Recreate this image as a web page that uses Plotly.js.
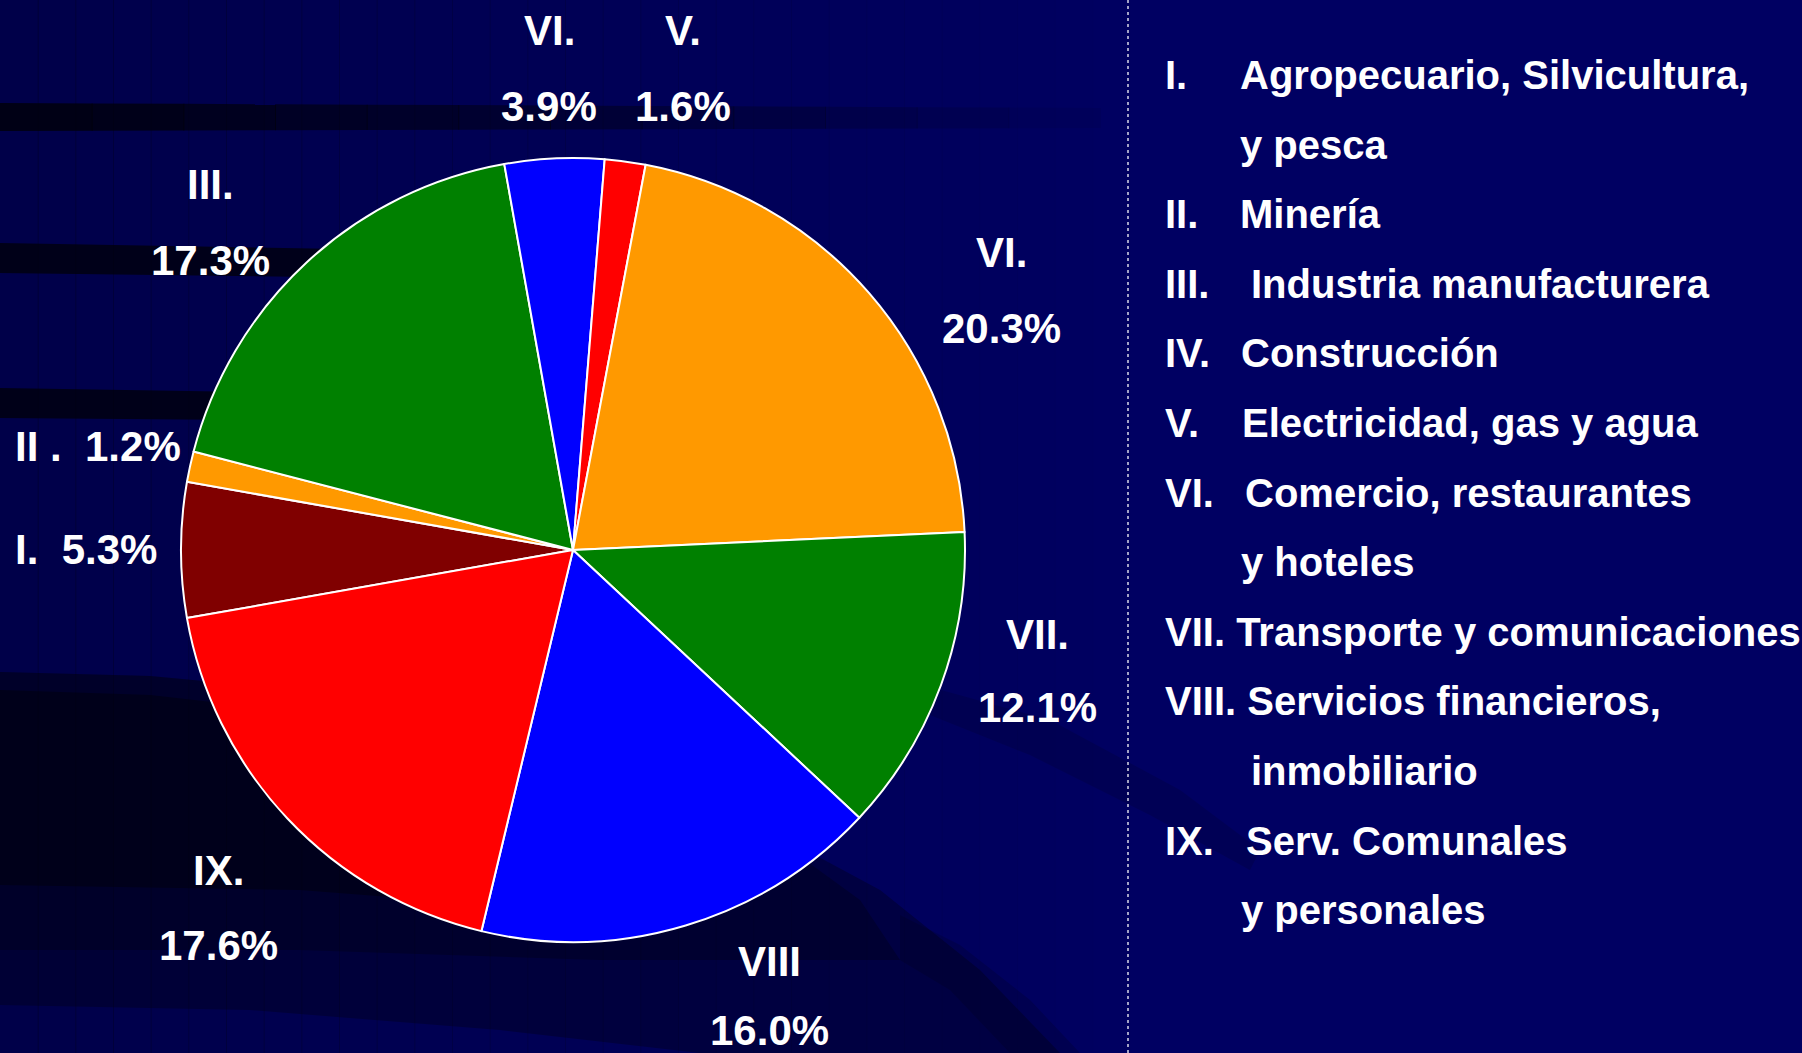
<!DOCTYPE html>
<html>
<head>
<meta charset="utf-8">
<script src="https://cdn.plot.ly/plotly-3.0.1.min.js"></script>
<style>html,body{margin:0;padding:0;background:#000060;}#chart{width:1802px;height:1053px;}</style>
</head>
<body>
<div id="chart"></div>
<script>
// ---- data ----
const sectors = ['I', 'II', 'III', 'IV', 'V', 'VI', 'VII', 'VIII', 'IX'];
const values = [5.3, 1.2, 17.3, 3.9, 1.6, 20.3, 12.1, 16.0, 17.6];
const sliceLabels = ['I.', 'II .', 'III.', 'VI.', 'V.', 'VI.', 'VII.', 'VIII', 'IX.'];
const legendNumerals = ['I.', 'II.', 'III.', 'IV.', 'V.', 'VI.', 'VII.', 'VIII.', 'IX.'];
const legendNames = [
  ['Agropecuario, Silvicultura,', 'y pesca'],
  ['Minería'],
  ['Industria manufacturera'],
  ['Construcción'],
  ['Electricidad, gas y agua'],
  ['Comercio, restaurantes', 'y hoteles'],
  ['Transporte y comunicaciones'],
  ['Servicios financieros,', 'inmobiliario'],
  ['Serv. Comunales', 'y personales']
];

// ---- styles / layout helpers ----
const W = 1802, H = 1053;
const colors = ['#800000', '#FF9900', '#008000', '#0000FF', '#FF0000', '#FF9900', '#008000', '#0000FF', '#FF0000'];
const FONT = 'Liberation Sans, Arial, sans-serif';
const px = x => x / W;
const py = y => 1 - y / H;

// label placement in pixels: [x, yName, yPct, mode]
const labelPos = [
  [13, 550, null, 'inline'],
  [13, 447, null, 'inline'],
  [210, 185, 260, 'stack'],
  [549, 31, 106, 'stack'],
  [683, 31, 106, 'stack'],
  [1001, 252, 328, 'stack'],
  [1037, 634, 707, 'stack'],
  [769, 961, 1030, 'stack'],
  [218, 870, 945, 'stack']
];
const LABEL_SIZE = 42, LEGEND_SIZE = 40;
// legend text layout
const legX0 = 1163, legX1 = 1238, legY0 = 75, legStep = 69.6;
const nameIndent = [[0, 0], [0], [11], [1], [2], [5, 1], [0], [0, 11], [6, 1]];
const inlineNumeral = [false, false, false, false, false, false, true, true, false];

const annotations = [];
const lab = (text, x, y, anchor, size) => annotations.push({
  text: text, x: px(x), y: py(y), xref: 'paper', yref: 'paper',
  xanchor: anchor, yanchor: 'middle', showarrow: false,
  font: {family: FONT, size: size, color: '#FFFFFF'}
});

values.forEach((v, i) => {
  const p = labelPos[i];
  const pct = v.toFixed(1) + '%';
  if (p[3] === 'inline') {
    lab('<b>' + sliceLabels[i] + '\u00a0\u00a0' + pct + '</b>', p[0], p[1], 'left', LABEL_SIZE);
  } else {
    lab('<b>' + sliceLabels[i] + '</b>', p[0], p[1], 'center', LABEL_SIZE);
    lab('<b>' + pct + '</b>', p[0], p[2], 'center', LABEL_SIZE);
  }
});

let row = 0;
legendNames.forEach((lines, i) => {
  lines.forEach((ln, j) => {
    const y = legY0 + row * legStep;
    if (j === 0) {
      if (inlineNumeral[i]) {
        lab('<b>' + legendNumerals[i] + ' ' + ln + '</b>', legX0, y, 'left', LEGEND_SIZE);
      } else {
        lab('<b>' + legendNumerals[i] + '</b>', legX0, y, 'left', LEGEND_SIZE);
        lab('<b>' + ln + '</b>', legX1 + nameIndent[i][j], y, 'left', LEGEND_SIZE);
      }
    } else {
      lab('<b>' + ln + '</b>', legX1 + nameIndent[i][j], y, 'left', LEGEND_SIZE);
    }
    row++;
  });
});

// ---- background decoration ----
const shapes = [];
// horizontal gradient: darker at the left
const strips = 30;
for (let k = 0; k < strips; k++) {
  const x0 = k * 1130 / strips, x1 = (k + 1) * 1130 / strips + 1;
  shapes.push({type: 'rect', xref: 'paper', yref: 'paper', layer: 'below',
    x0: px(x0), x1: px(x1), y0: 0, y1: 1, line: {width: 0},
    fillcolor: 'rgba(0,0,0,' + (0.25 * (1 - k / strips)).toFixed(3) + ')'});
}
const P = (x, y) => px(x).toFixed(5) + ',' + py(y).toFixed(5);
function band(pts, color) {
  let d = 'M' + P(pts[0][0], pts[0][1]);
  for (let k = 1; k < pts.length; k++) d += ' L' + P(pts[k][0], pts[k][1]);
  d += ' Z';
  shapes.push({type: 'path', xref: 'paper', yref: 'paper', layer: 'below', path: d, line: {width: 0}, fillcolor: color});
}
// top streak fading to the right
const seg = 12;
for (let k = 0; k < seg; k++) {
  const xa = k * 1100 / seg, xb = (k + 1) * 1100 / seg + 1;
  const ya = 103 + 5 * k / seg, yb = 103 + 5 * (k + 1) / seg;
  band([[xa, ya], [xb, yb], [xb, 131 - 3 * (k + 1) / seg], [xa, 131 - 3 * k / seg]],
    'rgba(0,0,12,' + (0.85 * (1 - k / seg)).toFixed(3) + ')');
}
band([[0, 243], [400, 250], [400, 278], [0, 273]], 'rgba(0,0,12,0.8)');
band([[0, 388], [250, 392], [250, 420], [0, 418]], 'rgba(0,0,12,0.8)');
// large dark sweep lower left (layered to suggest a gradient)
band([[0, 672], [150, 676], [300, 690], [450, 715], [600, 760], [750, 820], [880, 890], [980, 970], [1060, 1053], [700, 1053], [500, 1030], [250, 1010], [0, 1005]], 'rgba(0,0,18,0.35)');
band([[0, 672], [150, 676], [300, 690], [450, 715], [600, 760], [750, 820], [860, 900], [900, 960], [600, 960], [300, 950], [0, 950]], 'rgba(0,0,14,0.3)');
band([[0, 690], [150, 695], [300, 712], [420, 760], [520, 840], [560, 910], [300, 890], [0, 885]], 'rgba(0,0,8,0.45)');
// faint sweeps on the right
band([[930, 687], [1050, 720], [1180, 790], [1260, 850], [1250, 870], [1150, 815], [1030, 755], [930, 715]], 'rgba(0,0,30,0.18)');
band([[900, 915], [960, 945], [1030, 1000], [1080, 1053], [1010, 1053], [950, 990], [900, 960]], 'rgba(0,0,20,0.2)');
// dotted separator
shapes.push({type: 'line', xref: 'paper', yref: 'paper', layer: 'above',
  x0: px(1128), x1: px(1128), y0: 0, y1: 1,
  line: {color: 'rgba(255,255,255,0.85)', width: 1.5, dash: 'dot'}});

// ---- pie ----
const cx = 573, cy = 550, R = 392;
const trace = {
  type: 'pie',
  labels: sectors,
  values: values,
  sort: false,
  direction: 'clockwise',
  rotation: 260,
  textinfo: 'none',
  hoverinfo: 'label+value',
  marker: {colors: colors, line: {color: '#FFFFFF', width: 2}},
  domain: {x: [px(cx - R), px(cx + R)], y: [py(cy + R), py(cy - R)]},
  showlegend: false
};

const layout = {
  width: W, height: H,
  margin: {l: 0, r: 0, t: 0, b: 0},
  paper_bgcolor: '#000062',
  plot_bgcolor: 'rgba(0,0,0,0)',
  showlegend: false,
  shapes: shapes,
  annotations: annotations
};

Plotly.newPlot('chart', [trace], layout, {displayModeBar: false, staticPlot: true});
</script>
</body>
</html>
